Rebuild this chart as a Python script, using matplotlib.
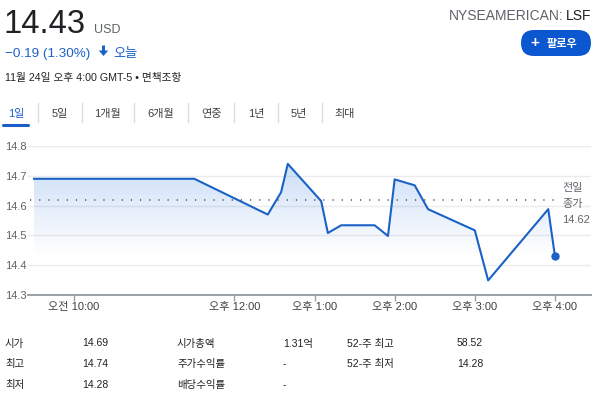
import matplotlib
matplotlib.use("Agg")
import matplotlib.pyplot as plt
import numpy as np
from matplotlib.patches import FancyBboxPatch, Polygon, FancyArrow

plt.rcParams['font.family'] = ['Liberation Sans', 'Noto Sans CJK KR', 'DejaVu Sans']

# ---- data ----
times = ["09:30", "11:30", "12:25", "12:35", "12:40", "13:05", "13:10", "13:20",
         "13:45", "13:55", "14:00", "14:15", "14:25", "15:00", "15:10", "15:55", "16:00"]
prices = [14.69, 14.69, 14.57, 14.645, 14.74, 14.615, 14.508, 14.534,
          14.534, 14.498, 14.688, 14.668, 14.588, 14.517, 14.349, 14.588, 14.43]
prev_close = 14.62

tick_hours = [10, 12, 13, 14, 15, 16]
tick_labels = ["오전 10:00", "오후 12:00", "오후 1:00", "오후 2:00", "오후 3:00", "오후 4:00"]
y_ticks = [14.3, 14.4, 14.5, 14.6, 14.7, 14.8]

tabs = ["1일", "5일", "1개월", "6개월", "연중", "1년", "5년", "최대"]
tab_x = [16, 60, 107, 161, 211, 256, 299, 345]
sep_x = [38, 82, 134, 188, 234, 278, 322]

stat_labels_1 = ["시가", "최고", "최저"]
stat_values_1 = ["14.69", "14.74", "14.28"]
stat_labels_2 = ["시가총액", "주가수익률", "배당수익률"]
stat_values_2 = ["1.31억", "-", "-"]
stat_labels_3 = ["52-주 최고", "52-주 최저"]
stat_values_3 = ["58.52", "14.28"]

blue = "#1a62c6"
gray = "#5f6368"
dark = "#202124"

x = np.array([int(t[:2]) + int(t[3:]) / 60 for t in times])
y = np.array(prices)

W, H = 613, 397
fig = plt.figure(figsize=(W / 100, H / 100), dpi=100)

# background axes in pixel coordinates for header / tabs / stats
bg = fig.add_axes([0, 0, 1, 1])
bg.set_xlim(0, W)
bg.set_ylim(H, 0)
bg.set_axis_off()

# header
bg.text(4, 33, "14.43", fontsize=23.5, color=dark, va='baseline')
bg.text(94, 33, "USD", fontsize=9, color=gray, va='baseline')
bg.text(5, 56.5, "−0.19 (1.30%)", fontsize=9.7, color=blue, va='baseline')
bg.add_patch(FancyArrow(103.5, 45.5, 0, 10.5, width=3, head_width=9.5, head_length=5.5,
                        length_includes_head=True, color=blue, lw=0))
bg.text(113, 56.5, "오늘", fontsize=9.5, color=blue, va='baseline')
bg.text(5, 81, "11월 24일 오후 4:00 GMT-5 • 면책조항", fontsize=7.7, color=dark, va='baseline')

bg.text(591, 20, "LSF", fontsize=10, color=dark, ha='right', va='baseline')
bg.text(563, 20, "NYSEAMERICAN:", fontsize=10, color=gray, ha='right', va='baseline')

btn = FancyBboxPatch((521, 30), 70, 26, boxstyle="round,pad=0,rounding_size=13",
                     facecolor="#0b57d0", edgecolor='none')
bg.add_patch(btn)
bg.text(535, 43.5, "+", fontsize=11, color='white', ha='center', va='center',
        fontweight='bold')
bg.text(562, 43.5, "팔로우", fontsize=8, color='white', ha='center', va='center',
        fontweight='bold')

# tabs
for i, (lab, tx) in enumerate(zip(tabs, tab_x)):
    bg.text(tx, 116.5, lab, fontsize=8, color=("#1a5fc9" if i == 0 else "#3c4043"),
            ha='center', va='baseline')
for sx in sep_x:
    bg.plot([sx, sx], [103, 122], color="#dadce0", lw=1)
bg.plot([3, 28], [124.5, 124.5], color="#1a5fc9", lw=2.2, solid_capstyle='round')

# stats
for i, (lab, val) in enumerate(zip(stat_labels_1, stat_values_1)):
    yy = 346.5 + i * 20.6
    bg.text(5, yy, lab, fontsize=7.5, color=dark, va='baseline')
    bg.text(82, yy, val, fontsize=7.5, color=dark, va='baseline')
for i, (lab, val) in enumerate(zip(stat_labels_2, stat_values_2)):
    yy = 346.5 + i * 20.6
    bg.text(177, yy, lab, fontsize=7.5, color=dark, va='baseline')
    bg.text(283, yy, val, fontsize=7.5, color=dark, va='baseline')
for i, (lab, val) in enumerate(zip(stat_labels_3, stat_values_3)):
    yy = 346.5 + i * 20.6
    bg.text(347, yy, lab, fontsize=7.5, color=dark, va='baseline')
    bg.text(483, yy, val, fontsize=7.5, color=dark, ha='right', va='baseline')

# ---- price chart ----
left, right, top, bottom = 28, 591, 146, 295
ax = fig.add_axes([left / W, 1 - bottom / H, (right - left) / W, (bottom - top) / H])
ax.set_facecolor('none')
x0 = 9.5 - 6 / 80
x1 = 16 + 36 / 80
ax.set_xlim(x0, x1)
ax.set_ylim(14.3, 14.8)

for v in y_ticks[1:]:
    ax.axhline(v, color="#ebebeb", lw=1, zorder=0)

# gradient fill under the line
ny = 256
gy = np.linspace(14.3, 14.8, ny)
alpha = np.clip((gy - 14.43) / (14.74 - 14.43), 0, 1.1) * 0.22
img = np.zeros((ny, 2, 4))
img[..., 0] = 0.10
img[..., 1] = 0.42
img[..., 2] = 0.85
img[..., 3] = alpha[:, None]
im = ax.imshow(img, extent=[x0, x1, 14.3, 14.8], origin='lower', aspect='auto',
               interpolation='bilinear', zorder=1)
verts = list(zip(x, y)) + [(x[-1], 14.3), (x[0], 14.3)]
clip = Polygon(verts, closed=True, facecolor='none', edgecolor='none',
               transform=ax.transData)
ax.add_patch(clip)
im.set_clip_path(clip)

ax.plot([x0 + 0.03, 16.01], [prev_close, prev_close], color="#4d5156", lw=1.1,
        linestyle=(0, (0.8, 5.2)), zorder=2)
ax.plot(x, y, color=blue, lw=1.5, zorder=3)
ax.plot(x[-1], y[-1], 'o', color=blue, markersize=5, zorder=4)

ax.text(16.09, 14.66, "전일", fontsize=8, color=gray, va='center')
ax.text(16.09, 14.605, "종가", fontsize=8, color=gray, va='center')
ax.text(16.09, 14.553, "14.62", fontsize=8, color=gray, va='center')

for s in ['top', 'right', 'left']:
    ax.spines[s].set_visible(False)
ax.spines['bottom'].set_color("#9aa0a6")
ax.spines['bottom'].set_linewidth(1.4)

ax.set_xticks(tick_hours)
ax.set_xticklabels(tick_labels)
ax.tick_params(axis='x', length=4, width=1, color="#9aa0a6", pad=1,
               labelsize=8, labelcolor="#3c4043")
ax.set_yticks(y_ticks)
ax.set_yticklabels([f"{v:.1f}" for v in y_ticks])
ax.tick_params(axis='y', length=0, pad=16.6, labelsize=8, labelcolor="#5f6368")
for lab in ax.get_yticklabels():
    lab.set_ha('left')

fig.savefig("out.png", dpi=100)
